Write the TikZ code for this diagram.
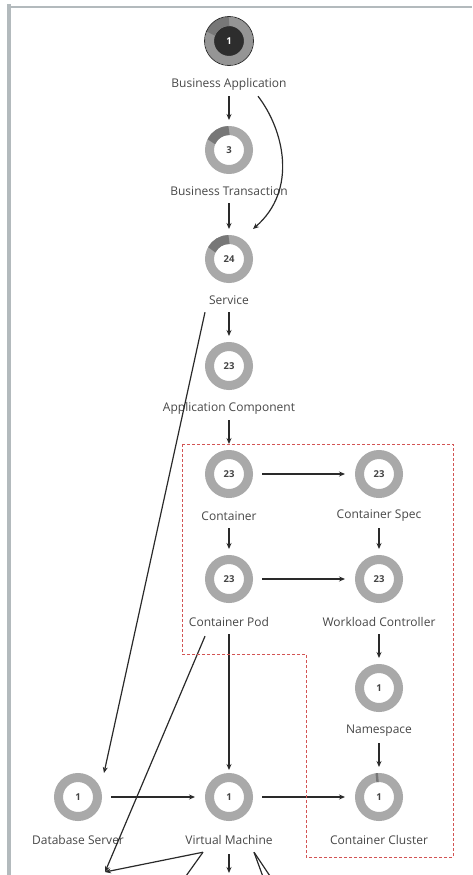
\documentclass[tikz,border=0pt]{standalone}
\usepackage{fontspec}
\setmainfont{Open Sans}
\usepackage{tikz}
\usetikzlibrary{arrows.meta,positioning,calc}

\definecolor{ringgray}{HTML}{A9A9A9}
\definecolor{seggray}{HTML}{777777}
\definecolor{ringmid}{HTML}{959595}
\definecolor{badark}{HTML}{2D2D2D}
\definecolor{lblgray}{HTML}{474747}
\definecolor{numgray}{HTML}{444444}
\definecolor{linegray}{HTML}{2A2A2A}
\definecolor{framegray}{HTML}{B3BABD}
\definecolor{boxred}{HTML}{D25454}

\begin{document}
\begin{tikzpicture}[x=1pt,y=1pt,
    ring/.style={circle, draw=ringgray, line width=9pt, minimum size=39pt, inner sep=0pt,
        font=\fontsize{9.5}{9.5}\selectfont\bfseries, text=numgray},
    lbl/.style={font=\fontsize{12}{14}\selectfont, text=lblgray, inner sep=0pt, minimum height=24pt},
    arr/.style={-{Stealth[length=6pt,width=5pt]}, line width=1.2pt, draw=linegray},
    seg/.style={line width=9pt, draw=seggray}]
    \clip (0,0) rectangle (472,-875);
    \useasboundingbox (0,0) rectangle (472,-875);

    % frame of the view
    \fill[framegray] (7,-4) rectangle (10.5,-875);
    \draw[framegray, line width=1.2pt] (8,-7) -- (472,-7);

    % entities
    \node[ring, fill=badark, draw=ringmid, text=white] (ba) at (229,-41) {1};
    \node[lbl] (ba-l) at (229,-84) {Business Application};
    \node[ring] (bt) at (229,-150) {3};
    \node[lbl] (bt-l) at (229,-191) {Business Transaction};
    \node[ring] (svc) at (229,-259) {24};
    \node[lbl] (svc-l) at (229,-300) {Service};
    \node[ring] (ac) at (229,-366) {23};
    \node[lbl] (ac-l) at (229,-408) {Application Component};
    \node[ring] (ctr) at (229,-474) {23};
    \node[lbl] (ctr-l) at (229,-516) {Container};
    \node[ring] (spec) at (379,-474) {23};
    \node[lbl] (spec-l) at (379,-516) {Container Spec};
    \node[ring] (pod) at (229,-579) {23};
    \node[lbl] (pod-l) at (229,-622) {Container Pod};
    \node[ring] (wc) at (379,-579) {23};
    \node[lbl] (wc-l) at (379,-622) {Workload Controller};
    \node[ring] (ns) at (379,-688) {1};
    \node[lbl] (ns-l) at (379,-731) {Namespace};
    \node[ring] (db) at (78,-797) {1};
    \node[lbl] (db-l) at (78,-840) {Database Server};
    \node[ring] (vm) at (229,-797) {1};
    \node[lbl] (vm-l) at (229,-840) {Virtual Machine};
    \node[ring] (cc) at (379,-797) {1};
    \node[lbl] (cc-l) at (379,-840) {Container Cluster};

    % usage segments
    \draw[seg] ([shift={(90:19.5pt)}]ba.center) arc[start angle=90, end angle=158, radius=19.5pt];
    \draw[badark, line width=0.8pt] (ba) circle (24.5pt);
    \draw[seg] ([shift={(90:19.5pt)}]bt.center) arc[start angle=90, end angle=155, radius=19.5pt];
    \draw[seg] ([shift={(90:19.5pt)}]svc.center) arc[start angle=90, end angle=152, radius=19.5pt];
    \draw[seg] ([shift={(92:19.5pt)}]cc.center) arc[start angle=92, end angle=99, radius=19.5pt];

    % vertical links
    \draw[arr, shorten >=6pt] (ba-l) -- (bt);
    \draw[arr, shorten >=6pt] (bt-l) -- (svc);
    \draw[arr, shorten >=6pt] (svc-l) -- (ac);
    \draw[arr, shorten >=6pt] (ac-l) -- (ctr);
    \draw[arr, shorten >=6pt] (ctr-l) -- (pod);
    \draw[arr, shorten >=6pt] (spec-l) -- (wc);
    \draw[arr, shorten >=6pt] (wc-l) -- (ns);
    \draw[arr, shorten >=6pt] (ns-l) -- (cc);
    \draw[arr, shorten >=3pt] (pod-l) -- (vm);

    % horizontal links
    \draw[arr, shorten <=9pt, shorten >=10pt] (ctr) -- (spec);
    \draw[arr, shorten <=9pt, shorten >=10pt] (pod) -- (wc);
    \draw[arr, shorten <=9pt, shorten >=10pt] (db) -- (vm);
    \draw[arr, shorten <=9pt, shorten >=10pt] (vm) -- (cc);

    % long links
    \draw[arr] ([xshift=29pt]ba-l.south) .. controls (284,-130) and (298,-190) .. ([xshift=24pt,yshift=6pt]svc.north);
    \draw[arr] ([xshift=-24pt]svc-l.south) -- ([xshift=26pt]db.north);

    % links leaving the view
    \coordinate (out-a) at (105,-872);
    \coordinate (out-b) at (176,-890);
    \coordinate (out-c) at (229,-873);
    \coordinate (out-d) at (266,-885);
    \coordinate (out-e) at (276,-885);
    \draw[arr] ([xshift=-24pt,yshift=-2pt]pod-l.south) -- (out-a);
    \draw[arr] ([xshift=-26pt]vm-l.south) -- (out-a);
    \draw[arr] ([xshift=-26pt]vm-l.south) -- (out-b);
    \draw[arr, shorten <=2pt] (vm-l) -- (out-c);
    \draw[arr] ([xshift=25pt]vm-l.south) -- (out-d);
    \draw[arr] ([xshift=25pt]vm-l.south) -- (out-e);

    % kubernetes group
    \draw[boxred, line width=0.9pt, dash pattern=on 3pt off 2pt]
        (182,-444) -- (453,-444) -- (453,-857) -- (306,-857) -- (306,-654) -- (182,-654) -- cycle;
\end{tikzpicture}
\end{document}
